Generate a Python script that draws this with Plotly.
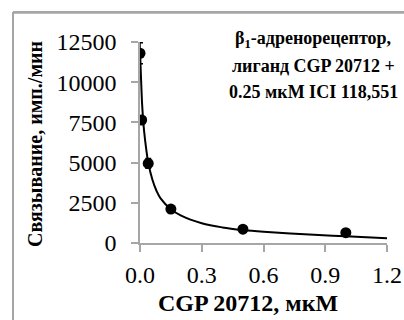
import plotly.graph_objects as go

# Measured binding (mean ± error)
conc_um = [0.0, 0.008, 0.04, 0.15, 0.5, 1.0]
binding = [11800, 7650, 4950, 2110, 860, 640]
binding_err = [650, 150, 300, 80, 60, 60]

# Fitted competition curve, sampled
fit_x = [0, 0.003, 0.006, 0.01, 0.015, 0.02, 0.03, 0.04, 0.06, 0.08, 0.1, 0.15,
         0.2, 0.3, 0.4, 0.5, 0.6, 0.8, 1.0, 1.2]
fit_y = [12100, 10900, 9900, 8700, 7700, 6950, 5850, 5000, 3950, 3250, 2780, 2100,
         1700, 1230, 970, 810, 700, 540, 420, 300]

x_ticks = [0.0, 0.3, 0.6, 0.9, 1.2]
y_ticks = [0, 2500, 5000, 7500, 10000, 12500]

title_lines = ["β<sub>1</sub>-адренорецептор,", "лиганд CGP 20712 +", "0.25 мкМ ICI 118,551"]

serif = "Liberation Serif"
axis_grey = "#a6a6a6"

W, H = 404, 320
FX, FY = 13, 12                          # top-left corner of the outer frame
PX0, PX1, PY0, PY1 = 140, 387, 42, 243   # data area, pixels
fw, fh = W - FX, H - FY


def px(x):
    return (x - FX) / fw


def py(y):
    return (H - y) / fh


fig = go.Figure()
fig.add_trace(go.Scatter(
    x=fit_x, y=fit_y, mode="lines", line=dict(color="black", width=2, shape="spline"),
    hoverinfo="skip", showlegend=False))
fig.add_trace(go.Scatter(
    x=conc_um, y=binding, mode="markers",
    marker=dict(color="black", size=11),
    error_y=dict(type="data", array=binding_err, color="black", thickness=1.5, width=3),
    showlegend=False))
# top edge of the outer frame, drawn on the full-size frame axes
fig.add_trace(go.Scatter(x=[0, 1], y=[0.997, 0.997], xaxis="x2", yaxis="y2", mode="lines",
                         line=dict(color=axis_grey, width=1.5), showlegend=False,
                         hoverinfo="skip"))

frame_axis = dict(domain=[0, 1], showline=True, linecolor=axis_grey, linewidth=1.5,
                  showticklabels=False, ticks="", showgrid=False, zeroline=False,
                  automargin=False, fixedrange=True, range=[0, 1])

annotations = [
    dict(xref="paper", yref="paper", x=px(248), y=py(303), xanchor="center", yanchor="middle",
         showarrow=False, text="<b>CGP 20712, мкМ</b>", font=dict(size=24, family=serif)),
    dict(xref="paper", yref="paper", x=px(35), y=py(144), xanchor="center", yanchor="middle",
         textangle=-90, showarrow=False, text="<b>Связывание, имп./мин</b>",
         font=dict(size=20, family=serif)),
]
for i, line in enumerate(title_lines):
    annotations.append(dict(
        xref="paper", yref="paper", x=px(313), y=py(39 + 26.5 * i),
        xanchor="center", yanchor="middle", showarrow=False,
        text=f"<b>{line}</b>", font=dict(size=18, family=serif)))

fig.update_layout(
    template="none",
    width=W, height=H,
    margin=dict(l=FX, r=0, t=FY, b=0, autoexpand=False),
    paper_bgcolor="white", plot_bgcolor="rgba(0,0,0,0)",
    font=dict(family=serif, color="black"),
    xaxis=dict(domain=[px(PX0), px(PX1)], anchor="y",
               range=[0, 1.2], tickvals=x_ticks, ticktext=[f"{v:.1f}" for v in x_ticks],
               showgrid=False, zeroline=False, showline=True, linecolor=axis_grey, linewidth=1.5,
               ticks="outside", tickcolor=axis_grey, ticklen=7, tickwidth=1.5,
               tickfont=dict(size=24, family=serif), automargin=False, ticklabelstandoff=2),
    yaxis=dict(domain=[py(PY1), py(PY0)], anchor="x",
               range=[0, 12500], tickvals=y_ticks, ticktext=[str(v) for v in y_ticks],
               showgrid=False, zeroline=False, showline=True, linecolor=axis_grey, linewidth=1.5,
               ticks="outside", tickcolor=axis_grey, ticklen=7, tickwidth=1.5,
               tickfont=dict(size=24, family=serif), automargin=False, ticklabelstandoff=10),
    xaxis2=dict(frame_axis, anchor="free", position=1, side="top"),
    yaxis2=dict(frame_axis, anchor="free", position=0, side="left"),
    annotations=annotations,
)

fig.write_html("out.html")
